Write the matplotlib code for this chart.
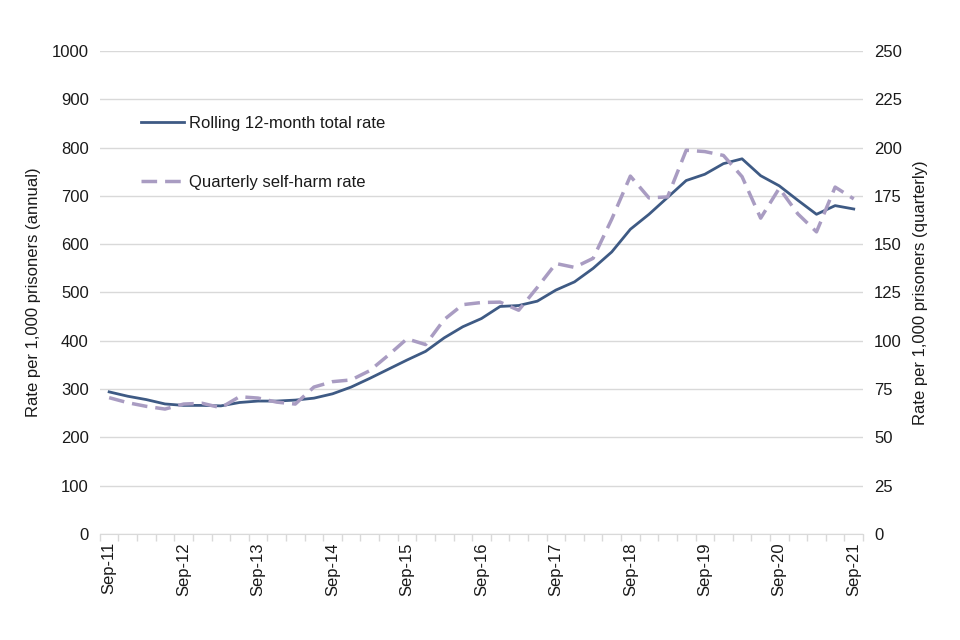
import matplotlib
matplotlib.use("Agg")
import matplotlib.pyplot as plt
from matplotlib.lines import Line2D

plt.rcParams['font.family'] = ['Liberation Sans', 'DejaVu Sans']

quarters = ["Sep-11", "Dec-11", "Mar-12", "Jun-12",
            "Sep-12", "Dec-12", "Mar-13", "Jun-13",
            "Sep-13", "Dec-13", "Mar-14", "Jun-14",
            "Sep-14", "Dec-14", "Mar-15", "Jun-15",
            "Sep-15", "Dec-15", "Mar-16", "Jun-16",
            "Sep-16", "Dec-16", "Mar-17", "Jun-17",
            "Sep-17", "Dec-17", "Mar-18", "Jun-18",
            "Sep-18", "Dec-18", "Mar-19", "Jun-19",
            "Sep-19", "Dec-19", "Mar-20", "Jun-20",
            "Sep-20", "Dec-20", "Mar-21", "Jun-21",
            "Sep-21"]

rolling_rate = [294, 285, 278, 269, 266, 266, 265, 272,
                275, 275, 277, 281, 290, 304, 322, 341,
                360, 378, 406, 429, 446, 471, 473, 482,
                505, 522, 550, 584, 631, 662, 697, 732,
                745, 767, 777, 742, 721, 691, 662, 680,
                673]

quarterly_rate = [70.5, 67.9, 66.0, 64.6, 67.2, 67.6, 65.3, 71.0,
                  70.3, 68.2, 67.2, 76.0, 78.8, 79.7, 84.5, 92.5,
                  101.0, 98.0, 111.0, 118.7, 119.8, 120.0, 115.8, 127.6,
                  140.0, 138.0, 142.7, 163.0, 185.3, 174.0, 174.5, 198.7,
                  198.0, 196.0, 185.0, 163.5, 179.0, 165.7, 156.4, 179.6,
                  173.5]

left_ticks = [0, 100, 200, 300, 400, 500, 600, 700, 800, 900, 1000]
right_ticks = [0, 25, 50, 75, 100, 125, 150, 175, 200, 225, 250]

solid_color = "#3E5A84"
dash_color = "#A99CC2"
grid_color = "#D9D9D9"
text_color = "#1A1A1A"
FS = 12

fig = plt.figure(figsize=(9.6, 6.4), dpi=100)
ax = fig.add_axes([0.104, 0.166, 0.795, 0.754])
ax2 = ax.twinx()

x = list(range(len(quarters)))
ax.plot(x, rolling_rate, color=solid_color, lw=2.0, zorder=3)
ax2.plot(x, quarterly_rate, color=dash_color, lw=2.5, dashes=(4.5, 2.3), zorder=2)

ax.set_xlim(-0.5, len(quarters) - 0.5)
ax.set_ylim(0, 1000)
ax2.set_ylim(0, 250)
ax.set_yticks(left_ticks)
ax2.set_yticks(right_ticks)

ax.yaxis.grid(True, color=grid_color, lw=1.0)
ax.set_axisbelow(True)

for a in (ax, ax2):
    for s in ("left", "right", "top"):
        a.spines[s].set_visible(False)
    a.spines["bottom"].set_color(grid_color)
    a.tick_params(axis="y", length=0, labelsize=FS, labelcolor=text_color, pad=8)

ax2.spines["bottom"].set_visible(False)

label_pos = [i for i, q in enumerate(quarters) if q.startswith("Sep")]
ax.set_xticks(label_pos)
ax.set_xticklabels([quarters[i] for i in label_pos], rotation=90, fontsize=FS, color=text_color)
ax.tick_params(axis="x", length=0, pad=6)
ax.set_xticks([i - 0.5 for i in range(len(quarters) + 1)], minor=True)
ax.tick_params(axis="x", which="minor", length=5, color=grid_color, width=1)

ax.set_ylabel("Rate per 1,000 prisoners (annual)", fontsize=FS, color=text_color, labelpad=8)
ax2.set_ylabel("Rate per 1,000 prisoners (quarterly)", fontsize=FS, color=text_color, labelpad=8)

handles = [Line2D([], [], color=solid_color, lw=2.0),
           Line2D([], [], color=dash_color, lw=2.5, dashes=(4.5, 2.3))]
labels = ["Rolling 12-month total rate", "Quarterly self-harm rate"]
leg = ax.legend(handles, labels, loc="upper left", bbox_to_anchor=(0.045, 0.879),
                frameon=False, fontsize=FS, labelspacing=2.6, handlelength=2.6,
                handletextpad=0.3, borderaxespad=0)
for t in leg.get_texts():
    t.set_color(text_color)

fig.savefig("out.png", dpi=100)
